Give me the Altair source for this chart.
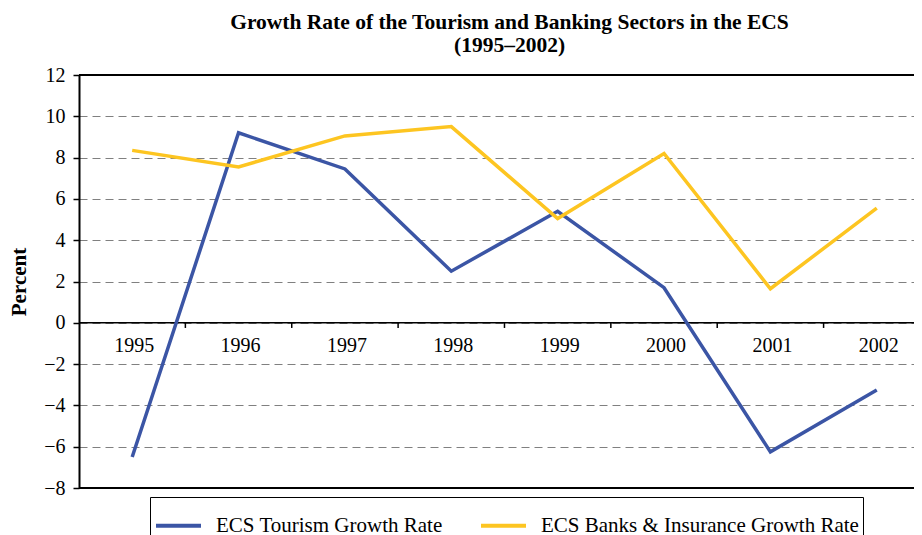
import altair as alt
import pandas as pd

years = [1995, 1996, 1997, 1998, 1999, 2000, 2001, 2002]
tourism = [-6.5, 9.2, 7.45, 2.5, 5.4, 1.7, -6.25, -3.25]
banks = [8.35, 7.55, 9.05, 9.5, 5.05, 8.2, 1.65, 5.55]
series_names = ["ECS Tourism Growth Rate", "ECS Banks & Insurance Growth Rate"]
series_colors = ["#3B55A5", "#FDC521"]
y_ticks = [-8, -6, -4, -2, 0, 2, 4, 6, 8, 10, 12]

FONT = "Liberation Serif"

rows = []
for y, t, b in zip(years, tourism, banks):
    rows.append({"year": y, "series": series_names[0], "value": t})
    rows.append({"year": y, "series": series_names[1], "value": b})
df = pd.DataFrame(rows)
df_years = pd.DataFrame({"year": years, "value": [0] * len(years)})
df_bounds = pd.DataFrame({
    "year": [y + 0.5 for y in years[:-1]],
    "value": [0] * (len(years) - 1),
    "value2": [-0.25] * (len(years) - 1),
})
df_zero = pd.DataFrame({"value": [0]})
df_frame = pd.DataFrame({"value": [y_ticks[0], y_ticks[-1]]})

xscale = alt.Scale(domain=[1994.5, 2002.35], nice=False, zero=False)
yscale = alt.Scale(domain=[-8, 12], nice=False, zero=False)

yaxis = alt.Axis(
    values=y_ticks,
    title="Percent",
    titleFont=FONT,
    titleFontSize=21,
    titleFontWeight="bold",
    titleColor="black",
    titlePadding=14,
    labelFont=FONT,
    labelFontSize=20,
    labelColor="black",
    labelPadding=8,
    tickSize=6,
    tickColor="black",
    tickWidth=1.5,
    domainColor="black",
    domainWidth=2,
    grid=True,
    gridColor="#808080",
    gridDash=[8, 5],
    gridWidth=1,
)

Y = alt.Y("value:Q", scale=yscale, axis=yaxis)
X = alt.X("year:Q", scale=xscale, axis=None)

lines = alt.Chart(df).mark_line(strokeWidth=3.5).encode(
    x=X,
    y=Y,
    color=alt.Color(
        "series:N",
        scale=alt.Scale(domain=series_names, range=series_colors),
        sort=series_names,
        legend=alt.Legend(
            title=None,
            orient="none",
            legendX=71,
            legendY=422,
            direction="horizontal",
            symbolType="stroke",
            symbolSize=2025,
            symbolStrokeWidth=4,
            labelFont=FONT,
            labelFontSize=21,
            labelColor="black",
            labelLimit=600,
            labelOffset=13,
            columnPadding=30,
            strokeColor="black",
            fillColor="white",
            padding=4,
        ),
    ),
)

zero = alt.Chart(df_zero).mark_rule(color="black", strokeWidth=1.5).encode(y=Y)
frame = alt.Chart(df_frame).mark_rule(color="black", strokeWidth=2).encode(y=Y)

ticks = alt.Chart(df_bounds).mark_rule(color="black", strokeWidth=1.5).encode(
    x=X,
    y=Y,
    y2="value2:Q",
)

labels = alt.Chart(df_years).mark_text(
    font=FONT, fontSize=20, baseline="top", dy=13, dx=2, color="black"
).encode(
    x=X,
    y=Y,
    text=alt.Text("year:N"),
)

chart = (
    alt.layer(zero, ticks, labels, lines, frame)
    .properties(
        width=835,
        height=413,
        autosize=alt.AutoSizeParams(type="none"),
        padding={"left": 71, "top": 67, "right": 0, "bottom": 47},
        title=alt.TitleParams(
            ["Growth Rate of the Tourism and Banking Sectors in the ECS", "(1995\u20132002)"],
            font=FONT,
            fontSize=21.5,
            fontWeight="bold",
            color="black",
            anchor="middle",
            lineHeight=23,
            offset=9,
            dx=13,
        ),
    )
    .configure_view(stroke=None)
)

chart.save("out.html", embed_options={"renderer": "svg", "actions": False})
